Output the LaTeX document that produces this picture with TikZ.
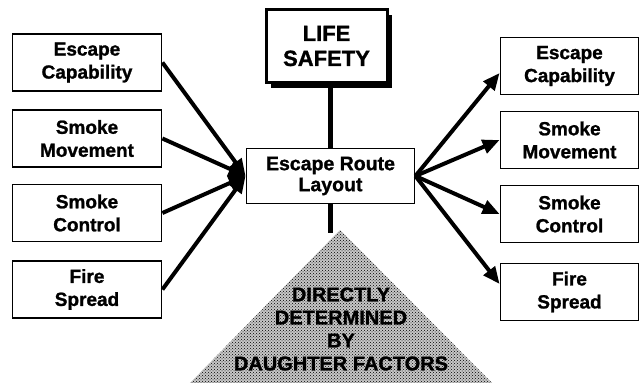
\documentclass[tikz,border=0pt]{standalone}
\usepackage{fontspec}
\setmainfont[BoldFeatures={FakeBold=1.2}]{Liberation Sans}
\usetikzlibrary{arrows.meta,patterns,shadows}
\begin{document}
\begin{tikzpicture}[x=1pt,y=-1pt,
  fbox/.style={draw, line width=1.8pt, fill=white, minimum height=57pt, align=center,
    inner sep=0pt, font=\fontsize{19}{23}\selectfont\bfseries},
  lbox/.style={fbox, minimum width=149pt},
  rbox/.style={fbox, minimum width=138pt},
  arr/.style={line width=4pt, -{Triangle[length=17pt,width=14pt]}},
  link/.style={line width=4.5pt}]
\useasboundingbox (0,0) rectangle (641,383);
% triangle
\coordinate (apex) at (340,230);
\fill[black!22] (apex) -- (187,386) -- (495,386) -- cycle;
\fill[pattern=crosshatch dots, pattern color=black] (apex) -- (187,386) -- (495,386) -- cycle;
\node[align=center, inner sep=0pt, font=\fontsize{20}{23}\selectfont\bfseries] (tri) at (341,329)
  {DIRECTLY\\DETERMINED\\BY\\DAUGHTER FACTORS};
% nodes
\node[draw, line width=3pt, fill=white, minimum width=121pt, minimum height=73pt, align=center,
  inner sep=0pt, font=\fontsize{22}{25}\selectfont\bfseries,
  drop shadow={shadow xshift=5pt, shadow yshift=-5pt, opacity=1, fill=black}]
  (ls) at (326.5,46) {LIFE\\SAFETY};
\node[fbox, minimum width=168pt, minimum height=55pt, font=\fontsize{19.5}{21}\selectfont\bfseries]
  (erl) at (330.5,176) {Escape Route\\Layout};
\node[lbox] (l1) at (87,62.5) {Escape\\Capability};
\node[lbox] (l2) at (87,138.5) {Smoke\\Movement};
\node[lbox] (l3) at (87,213) {Smoke\\Control};
\node[lbox] (l4) at (87,289.5) {Fire\\Spread};
\node[rbox] (r1) at (569.5,66) {Escape\\Capability};
\node[rbox] (r2) at (569.5,140) {Smoke\\Movement};
\node[rbox] (r3) at (569.5,214) {Smoke\\Control};
\node[rbox] (r4) at (569.5,292) {Fire\\Spread};
% connectors
\draw[link] (erl.north) -- (erl.north |- ls.south);
\coordinate (stub) at (330.5,233);
\draw[link] (erl.south) -- (stub);
\foreach \i in {1,2,3,4} \draw[arr] (l\i.east) -- (erl.west);
\draw[arr] (erl.east) -- ([yshift=-7pt]r1.west);
\draw[arr] (erl.east) -- (r2.west);
\draw[arr] (erl.east) -- (r3.west);
\draw[arr] (erl.east) -- ([yshift=8pt]r4.west);
\end{tikzpicture}
\end{document}
